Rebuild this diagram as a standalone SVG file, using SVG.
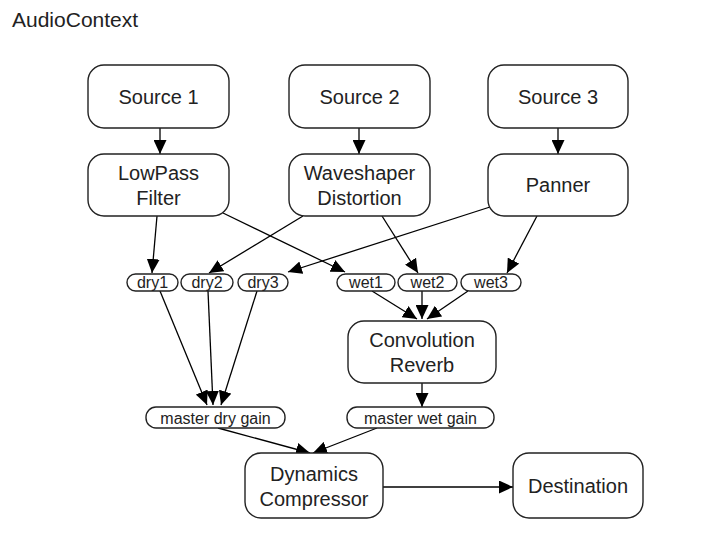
<svg xmlns="http://www.w3.org/2000/svg" width="709" height="535" viewBox="0 0 709 535">
<style>
.box{fill:#fff;stroke:#222;stroke-width:1.4}
.t{font-family:"Liberation Sans",Arial,sans-serif;font-size:20px;fill:#222;text-anchor:middle}
.s{font-family:"Liberation Sans",Arial,sans-serif;font-size:16px;fill:#222;text-anchor:middle}
.e{stroke:#000;stroke-width:1.3;fill:none;marker-end:url(#ah)}
</style>
<defs>
<marker id="ah" markerUnits="userSpaceOnUse" markerWidth="15" markerHeight="13" refX="14" refY="6.5" orient="auto">
<path d="M0,0 L14,6.5 L0,13 z" fill="#000"/>
</marker>
</defs>
<rect width="709" height="535" fill="#fff"/>
<text x="12" y="27" font-family="Liberation Sans,Arial,sans-serif" font-size="21" fill="#222">AudioContext</text>

<g id="connectors">
<line class="e" x1="160" y1="128" x2="160" y2="154"/>
<line class="e" x1="359" y1="128" x2="359" y2="154"/>
<line class="e" x1="558" y1="128" x2="558" y2="154"/>
<line class="e" x1="157" y1="216" x2="152" y2="273"/>
<line class="e" x1="223" y1="213" x2="345" y2="272"/>
<line class="e" x1="303" y1="216" x2="209" y2="273"/>
<line class="e" x1="382" y1="216" x2="418" y2="273"/>
<line class="e" x1="490" y1="207" x2="288" y2="272"/>
<line class="e" x1="537" y1="216" x2="507" y2="273"/>
<line class="e" x1="160" y1="291" x2="207" y2="405"/>
<line class="e" x1="208" y1="291" x2="213" y2="405"/>
<line class="e" x1="257" y1="291" x2="221" y2="405"/>
<line class="e" x1="372" y1="291" x2="417" y2="319"/>
<line class="e" x1="422" y1="291" x2="422" y2="319"/>
<line class="e" x1="468" y1="291" x2="427" y2="319"/>
<line class="e" x1="422" y1="383" x2="422" y2="407"/>
<line class="e" x1="218" y1="428" x2="310" y2="453"/>
<line class="e" x1="377" y1="428" x2="313" y2="453"/>
<line class="e" x1="383" y1="487" x2="513" y2="487"/>
</g>

<g id="source1"><rect class="box" x="88" y="65" width="141" height="63" rx="16"/><text class="t" x="158.5" y="104">Source 1</text></g>
<g id="source2"><rect class="box" x="289" y="65" width="141" height="63" rx="16"/><text class="t" x="359.5" y="104">Source 2</text></g>
<g id="source3"><rect class="box" x="488" y="65" width="140" height="63" rx="16"/><text class="t" x="558" y="104">Source 3</text></g>

<g id="lowpass"><rect class="box" x="88" y="154" width="141" height="62" rx="16"/><text class="t" x="158.5" y="180">LowPass</text><text class="t" x="158.5" y="205">Filter</text></g>
<g id="waveshaper"><rect class="box" x="289" y="154" width="141" height="62" rx="16"/><text class="t" x="359.5" y="180">Waveshaper</text><text class="t" x="359.5" y="205">Distortion</text></g>
<g id="panner"><rect class="box" x="488" y="154" width="140" height="62" rx="16"/><text class="t" x="558" y="192">Panner</text></g>

<g id="dry1"><rect class="box" x="127" y="274" width="51" height="17" rx="8.5"/><text class="s" x="152.5" y="288">dry1</text></g>
<g id="dry2"><rect class="box" x="181" y="274" width="52" height="17" rx="8.5"/><text class="s" x="207" y="288">dry2</text></g>
<g id="dry3"><rect class="box" x="238" y="274" width="50" height="17" rx="8.5"/><text class="s" x="263" y="288">dry3</text></g>
<g id="wet1"><rect class="box" x="337" y="274" width="58" height="17" rx="8.5"/><text class="s" x="366" y="288">wet1</text></g>
<g id="wet2"><rect class="box" x="398" y="274" width="59" height="17" rx="8.5"/><text class="s" x="427.5" y="288">wet2</text></g>
<g id="wet3"><rect class="box" x="461" y="274" width="60" height="17" rx="8.5"/><text class="s" x="491" y="288">wet3</text></g>

<g id="convolution"><rect class="box" x="348" y="321" width="148" height="62" rx="16"/><text class="t" x="422" y="347">Convolution</text><text class="t" x="422" y="372">Reverb</text></g>

<g id="masterdry"><rect class="box" x="146" y="407" width="139" height="21" rx="10"/><text class="s" x="215.5" y="423.5">master dry gain</text></g>
<g id="masterwet"><rect class="box" x="347" y="407" width="147" height="21" rx="10"/><text class="s" x="420.5" y="423.5">master wet gain</text></g>

<g id="compressor"><rect class="box" x="245" y="453" width="138" height="65" rx="16"/><text class="t" x="314" y="481">Dynamics</text><text class="t" x="314" y="506">Compressor</text></g>
<g id="destination"><rect class="box" x="513" y="453" width="130" height="65" rx="16"/><text class="t" x="578" y="493">Destination</text></g>
</svg>
